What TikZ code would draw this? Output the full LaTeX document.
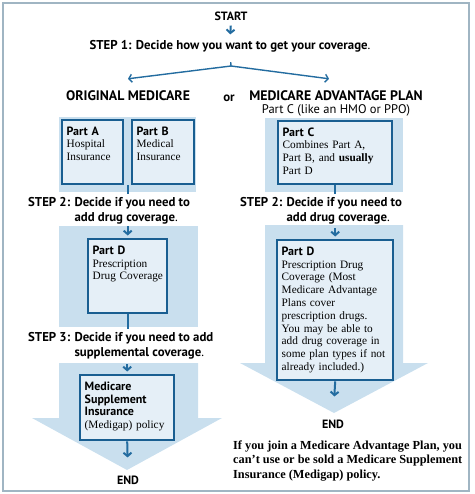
\documentclass[tikz,border=0pt]{standalone}
\usepackage{fontspec}
\setmainfont{Liberation Serif}
\setsansfont{PT Sans}
\usepackage{xcolor}
\usetikzlibrary{arrows.meta}
\usetikzlibrary{calc}

\definecolor{framegrey}{RGB}{160,181,195}
\definecolor{panelblue}{RGB}{201,223,238}
\definecolor{boxfill}{RGB}{229,239,247}
\definecolor{boxblue}{RGB}{25,94,145}
\definecolor{flowblue}{RGB}{35,108,160}

\tikzset{
    head/.style={font=\sffamily\bfseries\fontsize{12.8}{14.5}\selectfont, inner sep=1pt},
    title/.style={font=\sffamily\bfseries\fontsize{13.8}{15}\selectfont, inner sep=1pt},
    endmark/.style={font=\sffamily\bfseries\fontsize{12}{14}\selectfont, inner sep=1pt},
    subtitle/.style={font=\sffamily\fontsize{12.5}{14}\selectfont, inner sep=1pt},
    note/.style={font=\rmfamily\bfseries\fontsize{12.3}{14.5}\selectfont, inner sep=1pt, align=left},
    panel/.style={fill=panelblue},
    box/.style={draw=boxblue, line width=2.4pt, fill=boxfill, anchor=north west,
        inner xsep=4.5pt, inner ysep=5pt, align=left, text height=10pt,
        font=\rmfamily\fontsize{11.3}{12.8}\selectfont},
    flow/.style={draw=flowblue, line width=2pt, -{Straight Barb[length=3.5pt,width=8pt]}},
    link/.style={draw=flowblue, line width=2pt},
    fork/.style={draw=flowblue, line width=1.4pt},
}
\newcommand{\partlabel}[1]{\textsf{\bfseries\fontsize{12}{12.8}\selectfont #1}}

\begin{document}
\begin{tikzpicture}[x=1pt,y=-1pt]
    \useasboundingbox (0,0) rectangle (474,494);
    \draw[framegrey, line width=1.5pt] (3,3) rectangle (469,491);

    % light blue panels and big arrows
    \fill[panel] (59,117) rectangle (196,192);
    \fill[panel] (265,118) rectangle (403,192);
    \fill[panel] (59,226) rectangle (198,327);
    \fill[panel] (59,363) -- (198,363) -- (198,418) -- (222,418) -- (127,470)
        -- (32,418) -- (59,418) -- cycle;
    \fill[panel] (265,225) -- (403,225) -- (403,363) -- (428,363) -- (334,413)
        -- (240,363) -- (265,363) -- cycle;

    % headings
    \node[endmark] (start) at (231,16) {START};
    \node[head] (step1) at (230,46) {STEP 1: Decide how you want to get your coverage\textmd{.}};
    \node[title] (orig) at (128,96) {ORIGINAL MEDICARE};
    \node[head] (ornode) at (229,98) {or};
    \node[title] (adv) at (336,96) {MEDICARE ADVANTAGE PLAN};
    \node[subtitle] (advsub) at (336,110) {Part C (like an HMO or PPO)};

    \draw[flow, shorten <=4pt, shorten >=4.5pt] (start.south) -- (step1.north);
    \coordinate (split) at (231,66);
    \draw[fork, shorten <=9pt] (step1.south) -- (split);
    \draw[fork, -{Straight Barb[length=3pt,width=8pt]}] (split) -- ([yshift=11pt]orig.north);
    \draw[fork, -{Straight Barb[length=3pt,width=8pt]}] (split) -- ([xshift=-7pt,yshift=11pt]adv.north);

    % original medicare
    \node[box, text width=52pt, text depth=44pt] (partA) at (61,119)
        {\partlabel{Part A}\\Hospital\\Insurance};
    \node[box, text width=53pt, text depth=44pt] (partB) at (131,119)
        {\partlabel{Part B}\\Medical\\Insurance};
    \draw[link] ($(partA.south east)!0.5!(partB.south west)$) -- ++(0,9);

    \node[head, anchor=west] (step2L) at (27,211)
        {\begin{tabular}{@{}l@{ }l@{}}STEP 2: & Decide if you need to\\ & add drug coverage\textmd{.}\end{tabular}};

    \node[box, text width=70pt, text depth=54pt] (partDL) at (87,238)
        {\partlabel{Part D}\\Prescription\\\mbox{Drug Coverage}};
    \draw[flow, shorten >=2.5pt] ([yshift=12pt]partDL.north) -- (partDL.north);
    \draw[link] (partDL.south) -- ++(0,15);

    \node[head, anchor=west] (step3) at (27,346)
        {\begin{tabular}{@{}l@{ }l@{}}STEP 3: & Decide if you need to add\\ & supplemental coverage\textmd{.}\end{tabular}};

    \node[box, text width=85pt, text depth=45pt] (medigap) at (79,374)
        {\partlabel{Medicare}\\\partlabel{Supplement}\\\partlabel{Insurance}\\(Medigap) policy};
    \draw[flow, shorten >=2.5pt] ([yshift=10pt]medigap.north) -- (medigap.north);

    \node[endmark] (endL) at (128,480) {END};
    \draw[flow, shorten >=17pt] (medigap.south) -- (endL.north);

    % medicare advantage plan
    \node[box, text width=105pt, text depth=43pt] (partC) at (277,120)
        {\partlabel{Part C}\\Combines Part A,\\Part B, and \textbf{usually}\\Part D};
    \draw[link] (partC.south) -- ++(0,9);

    \node[head, anchor=west] (step2R) at (239,211)
        {\begin{tabular}{@{}l@{ }l@{}}STEP 2: & Decide if you need to\\ & add drug coverage\textmd{.}\end{tabular}};

    \node[box, text width=107pt, text depth=120pt] (partDR) at (276,239)
        {\partlabel{Part D}\\Prescription Drug\\Coverage (Most\\Medicare Advantage\\Plans cover\\prescription drugs.\\You may be able to\\add drug coverage in\\\mbox{some plan types if not}\\already included.)};
    \draw[flow, shorten >=2.5pt] ([yshift=11pt]partDR.north) -- (partDR.north);

    \node[endmark] (endR) at (333,424) {END};
    \draw[flow, shorten >=22pt] (partDR.south) -- (endR.north);

    \node[note, anchor=west] (warning) at (232,461)
        {If you join a Medicare Advantage Plan, you\\can’t use or be sold a Medicare Supplement\\Insurance (Medigap) policy.};
\end{tikzpicture}
\end{document}
